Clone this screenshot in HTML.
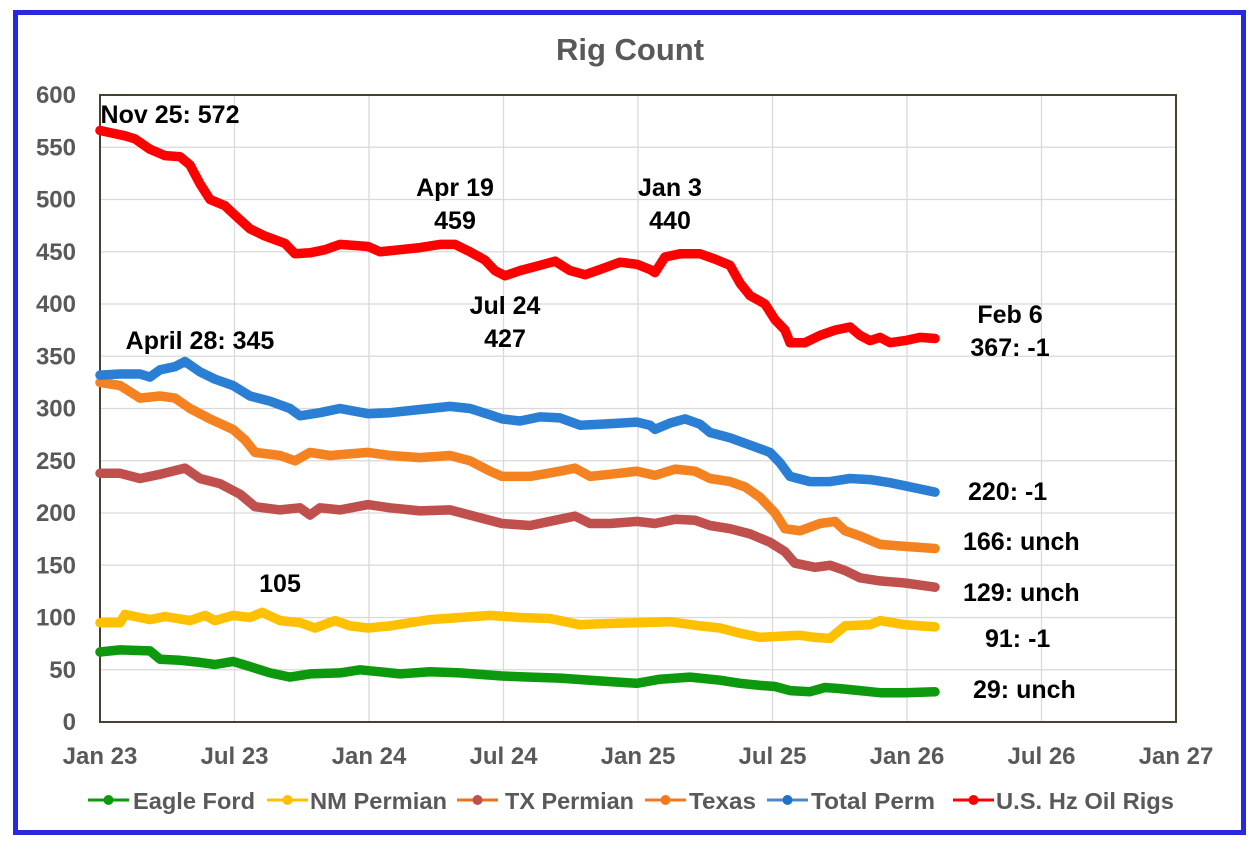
<!DOCTYPE html>
<html><head><meta charset="utf-8"><style>
html,body{margin:0;padding:0;background:#fff;}
svg{display:block;font-family:"Liberation Sans",Arial,sans-serif;font-weight:bold;}
</style></head><body>
<svg id="s" width="1260" height="850" viewBox="0 0 1260 850">
<rect x="15.5" y="12.5" width="1228" height="820" fill="#fff" stroke="#2828dc" stroke-width="5"/>
<g id="grid" stroke="#d9d9d9" stroke-width="1.3"></g>
<rect x="100" y="95" width="1076" height="627" fill="none" stroke="#4a4030" stroke-width="2"/>
<text x="630" y="60" font-size="31" fill="#595959" text-anchor="middle">Rig Count</text>
<g id="ylab" font-size="24" fill="#595959" text-anchor="end"></g>
<g id="xlab" font-size="24" fill="#595959" text-anchor="middle"></g>
<g id="series" fill="none" stroke-linejoin="round" stroke-linecap="round"></g>
<g font-size="25" fill="#000" text-anchor="middle">
<text x="170" y="123">Nov 25: 572</text>
<text x="200" y="349">April 28: 345</text>
<text x="455" y="196">Apr 19</text><text x="455" y="229">459</text>
<text x="505" y="314">Jul 24</text><text x="505" y="347">427</text>
<text x="670" y="196">Jan 3</text><text x="670" y="229">440</text>
<text x="1010" y="323">Feb 6</text><text x="1010" y="356">367: -1</text>
<text x="280" y="592">105</text>
</g>
<g font-size="25" fill="#000">
<text x="968" y="500">220: -1</text>
<text x="963" y="550">166: unch</text>
<text x="963" y="601">129: unch</text>
<text x="985" y="647">91: -1</text>
<text x="973" y="698">29: unch</text>
</g>
<g id="leg" font-size="23" fill="#595959"></g>
</svg>
<script>
var NS="http://www.w3.org/2000/svg";
function el(p,t,a,txt){var e=document.createElementNS(NS,t);for(var k in a)e.setAttribute(k,a[k]);if(txt!=null)e.textContent=txt;document.getElementById(p).appendChild(e);return e;}
function Y(v){return 722-v*627/600;}
for(var i=1;i<12;i++){el("grid","line",{x1:100,x2:1176,y1:Y(i*50),y2:Y(i*50)});}
for(var i=1;i<8;i++){var x=100+i*1076/8;el("grid","line",{x1:x,x2:x,y1:95,y2:722});}
for(var i=0;i<=12;i++){el("ylab","text",{x:76,y:Y(i*50)+8},String(i*50));}
var xl=["Jan 23","Jul 23","Jan 24","Jul 24","Jan 25","Jul 25","Jan 26","Jul 26","Jan 27"];
for(var i=0;i<9;i++){el("xlab","text",{x:100+i*1076/8,y:764},xl[i]);}
var S=[
["#0d990d",[100,67,120,69,150,68,160,60,180,59,200,57,215,55,233,58,250,53,270,47,290,43,310,46,340,47,360,50,380,48,400,46,430,48,460,47,502,44,530,43,560,42,590,40,620,38,637,37,660,41,690,43,720,40,740,37,760,35,775,34,790,30,810,29,825,33,840,32,860,30,880,28,905,28,935,29]],
["#ffc000",[100,95,120,95,125,103,150,98,165,101,190,97,205,102,215,97,233,102,250,100,262,105,280,97,300,95,315,90,335,97,350,92,368,90,390,92,410,95,430,98,460,100,490,102,520,100,550,99,580,93,600,94,637,95,670,96,700,92,720,90,740,85,760,81,780,82,800,83,815,81,830,80,845,92,870,93,880,97,905,93,935,91]],
["#c0504d",[100,238,120,238,140,233,160,237,185,243,200,233,220,228,240,218,255,206,280,203,300,205,310,198,320,205,340,203,368,208,390,205,420,202,450,203,470,198,502,190,530,188,555,193,575,197,590,190,610,190,637,192,655,190,675,194,695,193,710,188,730,185,750,180,770,172,785,163,795,152,815,148,830,150,845,145,860,138,880,135,905,133,935,129]],
["#f58220",[100,325,120,322,140,310,160,312,175,310,190,300,210,290,233,280,245,270,255,258,280,255,295,250,310,258,330,255,368,258,390,255,420,253,450,255,470,250,490,240,502,235,530,235,560,240,575,243,590,235,610,237,637,240,655,236,675,242,695,240,710,233,730,230,745,225,760,215,775,200,785,185,800,183,820,190,835,192,845,183,860,178,880,170,905,168,935,166]],
["#2a7fd4",[100,332,120,333,140,333,150,330,160,337,175,340,185,345,200,335,215,328,233,322,250,312,270,307,290,300,300,293,320,296,340,300,368,295,390,296,420,299,450,302,470,300,490,294,502,290,520,288,540,292,560,291,580,284,600,285,620,286,637,287,650,284,655,280,670,286,685,290,700,285,710,277,730,272,750,265,770,258,780,248,790,235,810,230,830,230,850,233,870,232,890,229,905,226,935,220]],
["#ff0000",[100,566,110,564,125,561,135,558,150,548,165,542,180,541,190,533,200,515,210,500,225,494,235,485,250,472,265,465,285,458,295,448,310,449,325,452,340,457,368,455,380,450,400,452,420,454,440,457,455,457,470,450,485,442,495,432,505,427,520,432,540,437,555,441,570,432,585,428,600,433,620,440,637,438,650,433,655,430,665,445,680,448,700,448,715,443,730,437,740,420,750,408,765,400,775,385,785,375,790,363,805,363,820,370,835,375,850,378,860,370,870,365,880,368,890,363,905,365,920,368,935,367]]
];
S.forEach(function(s){var d=s[1],p=[];for(var i=0;i<d.length;i+=2)p.push(d[i]+","+Y(d[i+1]).toFixed(1));el("series","polyline",{points:p.join(" "),stroke:s[0],"stroke-width":9.5});});
var L=[["#0d990d","#0d990d",88,133,"Eagle Ford",122],["#ffc000","#ffc000",267,310,"NM Permian",137],["#e8741c","#c0504d",457,505,"TX Permian",129],["#f07a1c","#f07a1c",645,689,"Texas",67],["#4f86c6","#1f72c8",767,811,"Total Perm",124],["#ff0000","#ff0000",953,996,"U.S. Hz Oil Rigs",178]];
L.forEach(function(l){el("leg","line",{x1:l[2],x2:l[2]+41,y1:800,y2:800,stroke:l[0],"stroke-width":3});el("leg","circle",{cx:l[2]+20.5,cy:800,r:5,fill:l[1]});el("leg","text",{x:l[3],y:809,textLength:l[5],lengthAdjust:"spacingAndGlyphs"},l[4]);});
</script>
</body></html>
